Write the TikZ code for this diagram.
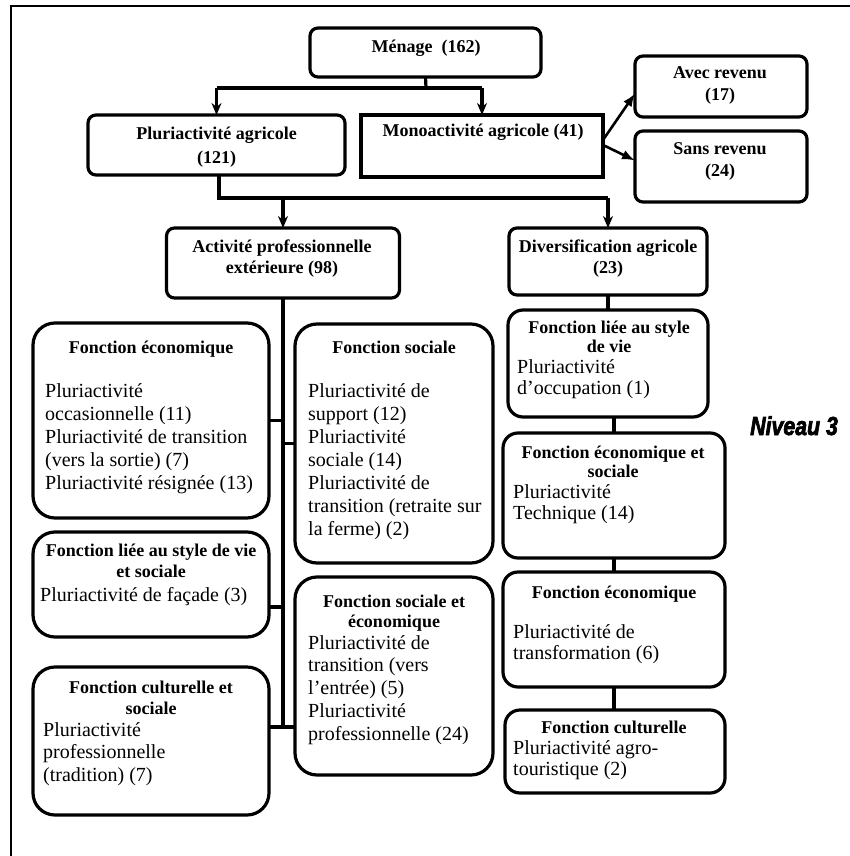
\documentclass[tikz,border=0pt]{standalone}
\usepackage{fontspec}
\setmainfont{Liberation Serif}
\newfontfamily\nivfont[FakeBold=3]{Liberation Sans}
\usetikzlibrary{arrows.meta,calc}
\tikzset{
  bx/.style={draw, line width=3.2pt, inner sep=0pt, outer sep=0pt},
  topbox/.style={bx, rounded corners=8pt},
  lbox/.style={bx, rounded corners=22pt},
  rbox/.style={bx, rounded corners=15pt},
  conn/.style={line width=3.2pt},
  darr/.style={conn, -{Stealth[length=12pt,width=10pt]}},
  sarr/.style={line width=2.6pt, -{Latex[length=13pt,width=10pt]}},
  ttl/.style={font=\bfseries\fontsize{18}{21}\selectfont, align=center, anchor=base, inner sep=0pt},
  ttlr/.style={font=\bfseries\fontsize{18}{19}\selectfont, align=center, anchor=base, inner sep=0pt},
  ttltop/.style={font=\bfseries\fontsize{18}{22}\selectfont, align=center, anchor=base, inner sep=0pt},
  bdy/.style={font=\fontsize{20}{23}\selectfont, align=left, anchor=base west, inner sep=0pt},
  bdyr/.style={font=\fontsize{20}{21.5}\selectfont, align=left, anchor=base west, inner sep=0pt},
}
\begin{document}
\begin{tikzpicture}[x=1pt,y=-1pt]
\useasboundingbox (0,0) rectangle (850,856);
\draw[line width=1.5pt] (11,856) -- (11,6) -- (850,6);

% top level (multi-line nodes are anchored at the baseline of their last line)
\node[topbox, minimum width=231pt, minimum height=49pt] (men) at (425.5,52.5) {};
\node[ttl] (tmen) at (426,53) {Ménage~~(162)};
\node[topbox, minimum width=257pt, minimum height=60pt] (pluri) at (216.5,145) {};
\node[ttltop, font=\bfseries\fontsize{18}{24}\selectfont] (tpluri) at (216.5,163) {Pluriactivité agricole\\(121)};
\node[bx, minimum width=242pt, minimum height=62pt] (mono) at (482,146) {};
\node[ttl] (tmono) at (483,136) {Monoactivité agricole (41)};
\node[topbox, minimum width=172pt, minimum height=61pt] (avec) at (721,86.5) {};
\node[ttltop] (tavec) at (720,101) {Avec revenu\\(17)};
\node[topbox, minimum width=172pt, minimum height=71pt] (sans) at (721,166.5) {};
\node[ttltop] (tsans) at (720,176) {Sans revenu\\(24)};
\node[topbox, minimum width=233pt, minimum height=70pt] (act) at (283,263) {};
\node[ttl] (tact) at (282,273) {Activité professionnelle\\extérieure (98)};
\node[topbox, minimum width=198pt, minimum height=67pt] (div) at (608,261.5) {};
\node[ttl] (tdiv) at (608,273.5) {Diversification agricole\\(23)};

% left and middle columns
\node[lbox, minimum width=236pt, minimum height=195pt] (fe) at (151,420.5) {};
\node[ttl] (tfe) at (151,353) {Fonction économique};
\node[bdy] (bfe) at (45,489) {Pluriactivité\\occasionnelle (11)\\Pluriactivité de transition\\(vers la sortie) (7)\\Pluriactivité résignée (13)};

\node[lbox, minimum width=198pt, minimum height=239pt] (fs) at (394,443.5) {};
\node[ttl] (tfs) at (394,353) {Fonction sociale};
\node[bdy] (bfs) at (308,535) {Pluriactivité de\\support (12)\\Pluriactivité\\sociale (14)\\Pluriactivité de\\transition (retraite sur\\la ferme) (2)};

\node[lbox, minimum width=236pt, minimum height=105pt] (flsvs) at (151,584.5) {};
\node[ttl] (tflsvs) at (151,577) {Fonction liée au style de vie\\et sociale};
\node[bdy] (bflsvs) at (40,601) {Pluriactivité de façade (3)};

\node[lbox, minimum width=236pt, minimum height=148pt] (fcs) at (151,741) {};
\node[ttl] (tfcs) at (151,714) {Fonction culturelle et\\sociale};
\node[bdy, font=\fontsize{20}{22.5}\selectfont] (bfcs) at (43,781) {Pluriactivité\\professionnelle\\(tradition) (7)};

\node[lbox, minimum width=198pt, minimum height=198pt] (fse) at (394,676) {};
\node[ttlr, font=\bfseries\fontsize{18}{20}\selectfont] (tfse) at (394,627) {Fonction sociale et\\économique};
\node[bdy, font=\fontsize{20}{22.7}\selectfont] (bfse) at (308,740) {Pluriactivité de\\transition (vers\\l’entrée) (5)\\Pluriactivité\\professionnelle (24)};

% right column
\node[rbox, minimum width=200pt, minimum height=107pt] (flsv) at (608,363.5) {};
\node[ttlr] (tflsv) at (609,352) {Fonction liée au style\\de vie};
\node[bdyr] (bflsv) at (517,394.5) {Pluriactivité\\d’occupation (1)};

\node[rbox, minimum width=222pt, minimum height=125pt] (fes) at (614,495.5) {};
\node[ttlr] (tfes) at (613,477) {Fonction économique et\\sociale};
\node[bdyr] (bfes) at (513,519.5) {Pluriactivité\\Technique (14)};

\node[rbox, minimum width=222pt, minimum height=115pt] (fe2) at (614,629.5) {};
\node[ttlr] (tfe2) at (614,598) {Fonction économique};
\node[bdyr] (bfe2) at (513,659.5) {Pluriactivité de\\transformation (6)};

\node[rbox, minimum width=220pt, minimum height=83pt] (fc) at (615,751.5) {};
\node[ttlr] (tfc) at (614,733) {Fonction culturelle};
\node[bdyr] (bfc) at (513,775.5) {Pluriactivité agro-\\touristique (2)};

\node[anchor=base west, inner sep=0pt, font=\nivfont\bfseries\itshape\fontsize{26}{28}\selectfont] (niv) at (750,435) {\scalebox{0.82}[1]{Niveau 3}};

% connectors top
\coordinate (j1) at (426,88);
\draw[conn] (men.south) -- (j1);
\draw[conn] (j1 -| pluri.north) -- (j1 -| mono.north);
\draw[darr] (j1 -| pluri.north) -- (pluri.north);
\draw[darr] (j1 -| mono.north) -- (mono.north);

\coordinate (j2) at (219,198);
\draw[conn] (pluri.south -| j2) -- (j2) -- (j2 -| div.north);
\draw[darr] (j2 -| act.north) -- (act.north);
\draw[darr] (j2 -| div.north) -- (div.north);

\draw[sarr] ($(mono.east)+(0,-6)$) -- ($(avec.west)+(0,7)$);
\draw[sarr] ($(mono.east)+(0,-1)$) -- ($(sans.west)+(0,-6)$);

% trunk
\draw[conn] (act.south) -- (act.south |- 0,727) coordinate (tb);
\draw[conn] (fe.east) -- (fe.east -| tb);
\draw[conn] (fs.west) -- (fs.west -| tb);
\draw[conn] (flsvs.east |- 0,607) -- (tb |- 0,607);
\draw[conn] (fcs.east |- tb) -- (fse.west |- tb);

% right column connectors
\draw[conn] (div.south) -- (flsv.north);
\draw[conn] (fes.north |- flsv.south) -- (fes.north);
\draw[conn] (fes.south) -- (fe2.north);
\draw[conn] (fe2.south) -- (fe2.south |- fc.north);
\end{tikzpicture}
\end{document}
